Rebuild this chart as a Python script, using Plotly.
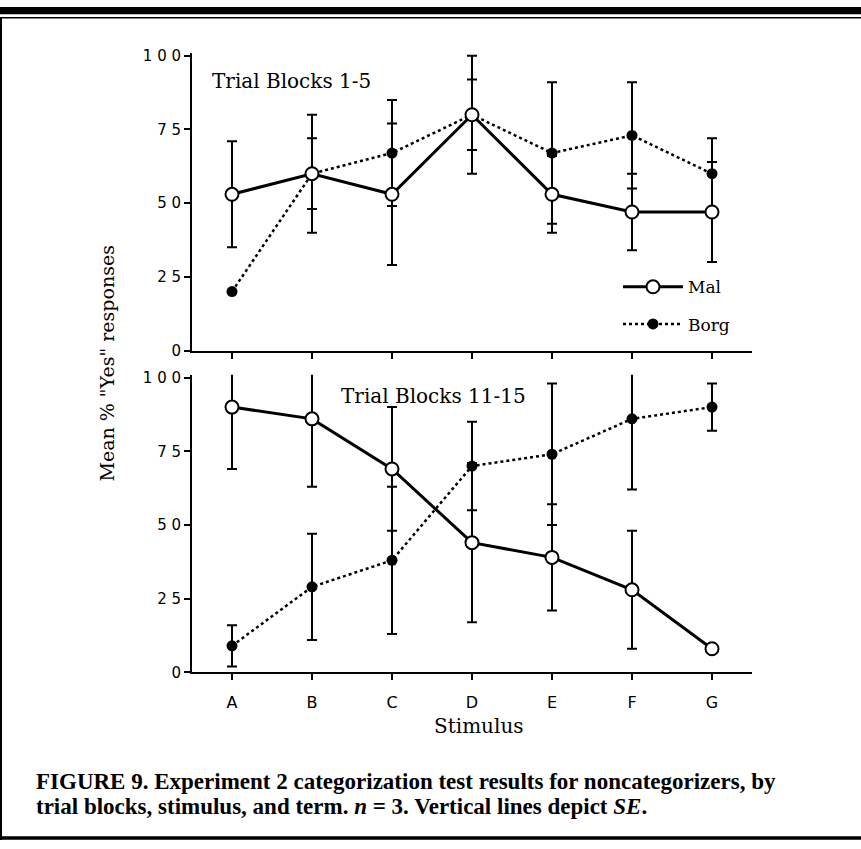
import plotly.graph_objects as go

# ---- data -------------------------------------------------------------
stimuli = ["A", "B", "C", "D", "E", "F", "G"]

# Trial Blocks 1-5
mal_early = [53, 60, 53, 80, 53, 47, 47]
mal_early_se = [18, 20, 24, 20, 13, 13, 17]
borg_early = [20, 60, 67, 80, 67, 73, 60]
borg_early_se = [0, 12, 18, 12, 24, 18, 12]

# Trial Blocks 11-15
mal_late = [90, 86, 69, 44, 39, 28, 8]
mal_late_se = [21, 23, 21, 27, 18, 20, 0]
borg_late = [9, 29, 38, 70, 74, 86, 90]
borg_late_se = [7, 18, 25, 15, 24, 24, 8]

y_tick_values = [0, 25, 50, 75, 100]

panel_titles = ["Trial Blocks 1-5", "Trial Blocks 11-15"]
y_title = 'Mean % "Yes" responses'
x_title = "Stimulus"
caption_lines = [
    "FIGURE 9. Experiment 2 categorization test results for noncategorizers, by",
    "trial blocks, stimulus, and term. <i>n</i> = 3. Vertical lines depict <i>SE</i>.",
]

# ---- page geometry (pixels) -------------------------------------------
W, H = 861, 849


def fx(px):
    return px / W


def fy(py):
    return 1 - py / H


X_LEFT, X_RIGHT = 192, 752
TOP_ZERO, BOT_ZERO = 350.7, 678.3
PX_PER_UNIT = 3.0
Y_MAX = 101

SERIF = "DejaVu Serif"
SANS = "DejaVu Sans"
CAPTION_FONT = "Liberation Serif"

fig = go.Figure()


def add_panel(xref, yref, mal, mal_se, borg, borg_se, legend):
    # error bars first so every marker sits on top of them
    for vals, se in ((borg, borg_se), (mal, mal_se)):
        fig.add_trace(go.Scatter(
            x=stimuli, y=vals, xaxis=xref, yaxis=yref, mode="markers",
            marker=dict(size=1, color="rgba(0,0,0,0)"),
            error_y=dict(type="data", array=se, color="black",
                         thickness=2, width=5),
            showlegend=False, hoverinfo="skip",
        ))
    fig.add_trace(go.Scatter(
        x=stimuli, y=borg, xaxis=xref, yaxis=yref, mode="lines+markers",
        name="Borg", legendgroup="borg", legendrank=2, showlegend=legend,
        line=dict(color="black", width=2.5, dash="3px,3px"),
        marker=dict(symbol="circle", size=11, color="black",
                    line=dict(color="black", width=0)),
    ))
    fig.add_trace(go.Scatter(
        x=stimuli, y=mal, xaxis=xref, yaxis=yref, mode="lines+markers",
        name="Mal", legendgroup="mal", legendrank=1, showlegend=legend,
        line=dict(color="black", width=3),
        marker=dict(symbol="circle", size=13, color="white",
                    line=dict(color="black", width=2)),
    ))


add_panel("x", "y", mal_early, mal_early_se, borg_early, borg_early_se, True)
add_panel("x2", "y2", mal_late, mal_late_se, borg_late, borg_late_se, False)

y_tick_text = [" ".join(str(v)) for v in y_tick_values]

axis_common = dict(
    showline=True, linecolor="black", linewidth=2,
    ticks="outside", tickcolor="black", tickwidth=1.5, ticklen=6,
    showgrid=False, zeroline=False,
)

x_domain = [fx(X_LEFT), fx(X_RIGHT)]
fig.update_layout(
    xaxis=dict(axis_common, domain=x_domain, anchor="y", type="category",
               categoryorder="array", categoryarray=stimuli,
               range=[-0.5, 6.5], showticklabels=False),
    yaxis=dict(axis_common, anchor="x", range=[0, Y_MAX],
               domain=[fy(TOP_ZERO), fy(TOP_ZERO - Y_MAX * PX_PER_UNIT)],
               tickvals=y_tick_values, ticktext=y_tick_text,
               tickfont=dict(family=SANS, size=15, color="black")),
    xaxis2=dict(axis_common, domain=x_domain, anchor="y2", type="category",
                categoryorder="array", categoryarray=stimuli,
                range=[-0.5, 6.5], ticklabelstandoff=8,
                tickfont=dict(family=SANS, size=16, color="black")),
    yaxis2=dict(axis_common, anchor="x2", range=[0, Y_MAX],
                domain=[fy(BOT_ZERO), fy(BOT_ZERO - Y_MAX * PX_PER_UNIT)],
                tickvals=y_tick_values, ticktext=y_tick_text,
                tickfont=dict(family=SANS, size=15, color="black")),
)

annotations = [
    dict(text=panel_titles[0], x=fx(210), y=fy(76), xanchor="left",
         yanchor="middle", font=dict(family=SERIF, size=20, color="black")),
    dict(text=panel_titles[1], x=fx(339), y=fy(397), xanchor="left",
         yanchor="middle", font=dict(family=SERIF, size=20, color="black")),
    dict(text=y_title, x=fx(107), y=fy(364), textangle=-90,
         xanchor="center", yanchor="middle",
         font=dict(family=SERIF, size=19, color="black")),
    dict(text=x_title, x=fx(479), y=fy(733), xanchor="center",
         yanchor="middle", font=dict(family=SERIF, size=20, color="black")),
    dict(text=caption_lines[0], x=fx(34), y=fy(789), xanchor="left",
         yanchor="middle",
         font=dict(family=CAPTION_FONT, size=23, color="black",
                   weight="bold")),
    dict(text=caption_lines[1], x=fx(34), y=fy(815), xanchor="left",
         yanchor="middle",
         font=dict(family=CAPTION_FONT, size=23, color="black",
                   weight="bold")),
]
for a in annotations:
    a.update(xref="paper", yref="paper", showarrow=False)

# page rules: heavy bar and hairline at the top, side rule, bottom rule
shapes = [
    dict(type="rect", x0=0, x1=1, y0=fy(8.5), y1=fy(1),
         fillcolor="black", line=dict(width=0)),
    dict(type="line", x0=0, x1=1, y0=fy(12), y1=fy(12),
         line=dict(color="black", width=1.5)),
    dict(type="line", x0=fx(1), x1=fx(1), y0=fy(12), y1=fy(849),
         line=dict(color="black", width=2)),
    dict(type="line", x0=0, x1=1, y0=fy(847), y1=fy(847),
         line=dict(color="black", width=3.5)),
]
for s in shapes:
    s.update(xref="paper", yref="paper", layer="above")

fig.update_layout(
    width=W, height=H,
    margin=dict(l=0, r=0, t=0, b=0),
    paper_bgcolor="white", plot_bgcolor="white",
    annotations=annotations, shapes=shapes,
    showlegend=True,
    legend=dict(x=fx(618), y=fy(268), xanchor="left", yanchor="top",
                bgcolor="rgba(0,0,0,0)", borderwidth=0,
                traceorder="grouped", tracegroupgap=12, itemwidth=60,
                font=dict(family=SERIF, size=17, color="black")),
)

fig.write_html("out.html")
